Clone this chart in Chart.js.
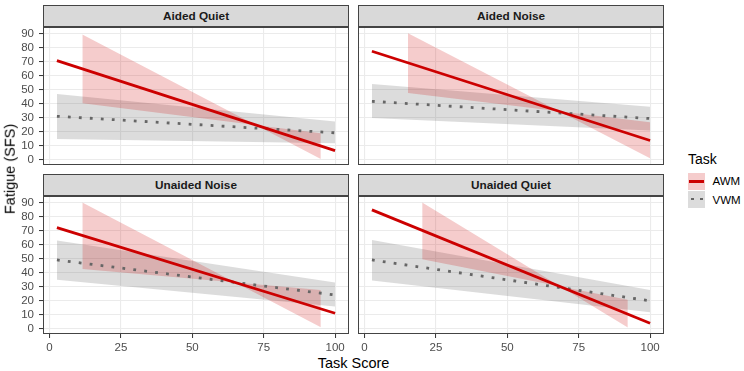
<!DOCTYPE html>
<html>
<head>
<meta charset="utf-8">
<script src="https://cdn.jsdelivr.net/npm/chart.js@4.4.1/dist/chart.umd.min.js"></script>
<style>
body { margin: 0; width: 744px; height: 371px; background: #fff; position: relative; overflow: hidden; font-family: "Liberation Sans", Arial, sans-serif; }
canvas, .strip, .txt, .key, .keyline { position: absolute; }
.strip { background: #d9d9d9; border: 1px solid #444; box-sizing: border-box; display: flex; align-items: center; justify-content: center; font-weight: bold; font-size: 11.8px; color: #1a1a1a; }
.txt { line-height: 1; white-space: nowrap; color: #000; }
</style>
</head>
<body>
<div id="root"></div>
<div class="txt" style="left:10px;top:169px;font-size:14.5px;transform:translate(-50%,-50%) rotate(-90deg);">Fatigue (SFS)</div>
<div class="txt" style="left:353.5px;top:355.5px;font-size:14.5px;transform:translateX(-50%);">Task Score</div>

<div class="txt" style="left:688px;top:152px;font-size:14px;">Task</div>
<div class="key" style="left:688px;top:173px;width:17px;height:17px;background:rgba(205,0,0,0.2);"></div>
<div class="keyline" style="left:689px;top:180.2px;width:15px;height:2.8px;background:#cc0000;"></div>
<div class="key" style="left:688px;top:190.5px;width:17px;height:17px;background:rgba(102,102,102,0.23);"></div>
<div class="keyline" style="left:691px;top:197.6px;width:14px;height:2.8px;background:repeating-linear-gradient(90deg,#666 0 2.8px,transparent 2.8px 9px);"></div>
<div class="txt" style="left:712.5px;top:176px;font-size:11.5px;">AWM</div>
<div class="txt" style="left:712.5px;top:195px;font-size:11.5px;">VWM</div>

<script>
// facets and ticks
const panels = ["Aided Quiet", "Aided Noise", "Unaided Noise", "Unaided Quiet"];
const tasks = ["AWM", "VWM"];
const xTicks = [0, 25, 50, 75, 100];
const yTicks = [0, 10, 20, 30, 40, 50, 60, 70, 80, 90];

// fitted lines, value at x = 2.6 and x = 100
const lineX = [2.6, 100];
const awmLine = [[70.7, 6.4], [77.4, 13.6], [72.1, 10.9], [84.8, 3.8]];
const vwmLine = [[30.9, 19.1], [41.6, 29.3], [49.0, 24.0], [49.0, 19.8]];

// confidence bands (ends only)
const awmBandX = [[11.5, 95], [15.2, 100], [11.5, 95], [20.2, 92.2]];
const awmBandHi = [[89.3, 0.4], [90.2, 0.9], [90.0, 0.9], [90.0, 0.7]];
const awmBandLo = [[40.2, 18.8], [47.6, 26.6], [42.6, 27.6], [49.5, 20.5]];
const vwmBandX = [2.6, 100];
const vwmBandHi = [[46.9, 27.1], [54.0, 37.8], [62.9, 32.9], [63.3, 27.6]];
const vwmBandLo = [[14.7, 11.6], [29.7, 20.8], [34.8, 15.7], [34.3, 11.7]];

const xRange = [-2.27, 104.87];
const yRange = [-3.9, 94.7];

const RED = "#cc0000";
const GREY = "#666666";

// panel layout: plot area position, which axes get labels
const layout = [
  { left: 43, top: 27, showY: true, showX: false },
  { left: 358, top: 27, showY: false, showX: false },
  { left: 43, top: 196, showY: true, showX: true },
  { left: 358, top: 196, showY: false, showX: true },
];
const plotW = 306, plotH = 138, yAxisW = 43, xAxisH = 20, stripH = 22;

const frame = {
  id: "frame",
  afterDraw(chart) {
    const { ctx, chartArea: a } = chart;
    ctx.save();
    ctx.strokeStyle = "#444";
    ctx.lineWidth = 1;
    ctx.strokeRect(a.left + 0.5, a.top + 0.5, a.right - a.left - 1, a.bottom - a.top - 1);
    ctx.restore();
  }
};

function pts(xs, ys) {
  return xs.map((x, i) => ({ x: x, y: ys[i] }));
}

function axis(dir, show, size, range, ticks) {
  return {
    type: "linear",
    min: range[0],
    max: range[1],
    afterBuildTicks: s => { s.ticks = ticks.map(v => ({ value: v })); },
    afterFit: s => {
      if (dir === "y") s.width = show ? size : 0;
      else s.height = show ? size : 0;
      s.paddingTop = s.paddingBottom = s.paddingLeft = s.paddingRight = 0;
    },
    grid: { color: "#ebebeb", lineWidth: 1.1, drawTicks: show, tickLength: 4, tickColor: "#333", tickWidth: 1 },
    border: { display: false },
    ticks: {
      display: show,
      padding: dir === "y" ? 5 : 3,
      color: "#4d4d4d",
      font: { family: "Liberation Sans", size: 11.5 },
      maxRotation: 0,
      autoSkip: false
    }
  };
}

const root = document.getElementById("root");

panels.forEach((name, i) => {
  const g = layout[i];

  const strip = document.createElement("div");
  strip.className = "strip";
  strip.style.left = g.left + "px";
  strip.style.top = (g.top - stripH) + "px";
  strip.style.width = plotW + "px";
  strip.style.height = stripH + "px";
  strip.textContent = name;
  root.appendChild(strip);

  const cv = document.createElement("canvas");
  const w = plotW + (g.showY ? yAxisW : 0);
  const h = plotH + (g.showX ? xAxisH : 0);
  cv.width = w;
  cv.height = h;
  cv.style.width = w + "px";
  cv.style.height = h + "px";
  cv.style.left = (g.left - (g.showY ? yAxisW : 0)) + "px";
  cv.style.top = g.top + "px";
  root.appendChild(cv);

  new Chart(cv, {
    type: "line",
    data: {
      datasets: [
        { label: tasks[0], data: pts(lineX, awmLine[i]), borderColor: RED, borderWidth: 2.8, pointRadius: 0, order: 1 },
        { label: tasks[1], data: pts(lineX, vwmLine[i]), borderColor: GREY, borderWidth: 2.8, borderDash: [2.8, 8.2], borderCapStyle: "butt", pointRadius: 0, order: 2 },
        { data: pts(awmBandX[i], awmBandHi[i]), borderColor: "transparent", borderWidth: 0, pointRadius: 0, fill: "+1", backgroundColor: "rgba(205,0,0,0.2)", order: 3 },
        { data: pts(awmBandX[i], awmBandLo[i]), borderColor: "transparent", borderWidth: 0, pointRadius: 0, order: 3 },
        { data: pts(vwmBandX, vwmBandHi[i]), borderColor: "transparent", borderWidth: 0, pointRadius: 0, fill: "+1", backgroundColor: "rgba(102,102,102,0.23)", order: 4 },
        { data: pts(vwmBandX, vwmBandLo[i]), borderColor: "transparent", borderWidth: 0, pointRadius: 0, order: 4 }
      ]
    },
    options: {
      responsive: false,
      animation: false,
      layout: { padding: 0, autoPadding: false },
      plugins: { legend: { display: false }, tooltip: { enabled: false } },
      scales: {
        x: axis("x", g.showX, xAxisH, xRange, xTicks),
        y: axis("y", g.showY, yAxisW, yRange, yTicks)
      }
    },
    plugins: [frame]
  });
});
</script>
</body>
</html>
